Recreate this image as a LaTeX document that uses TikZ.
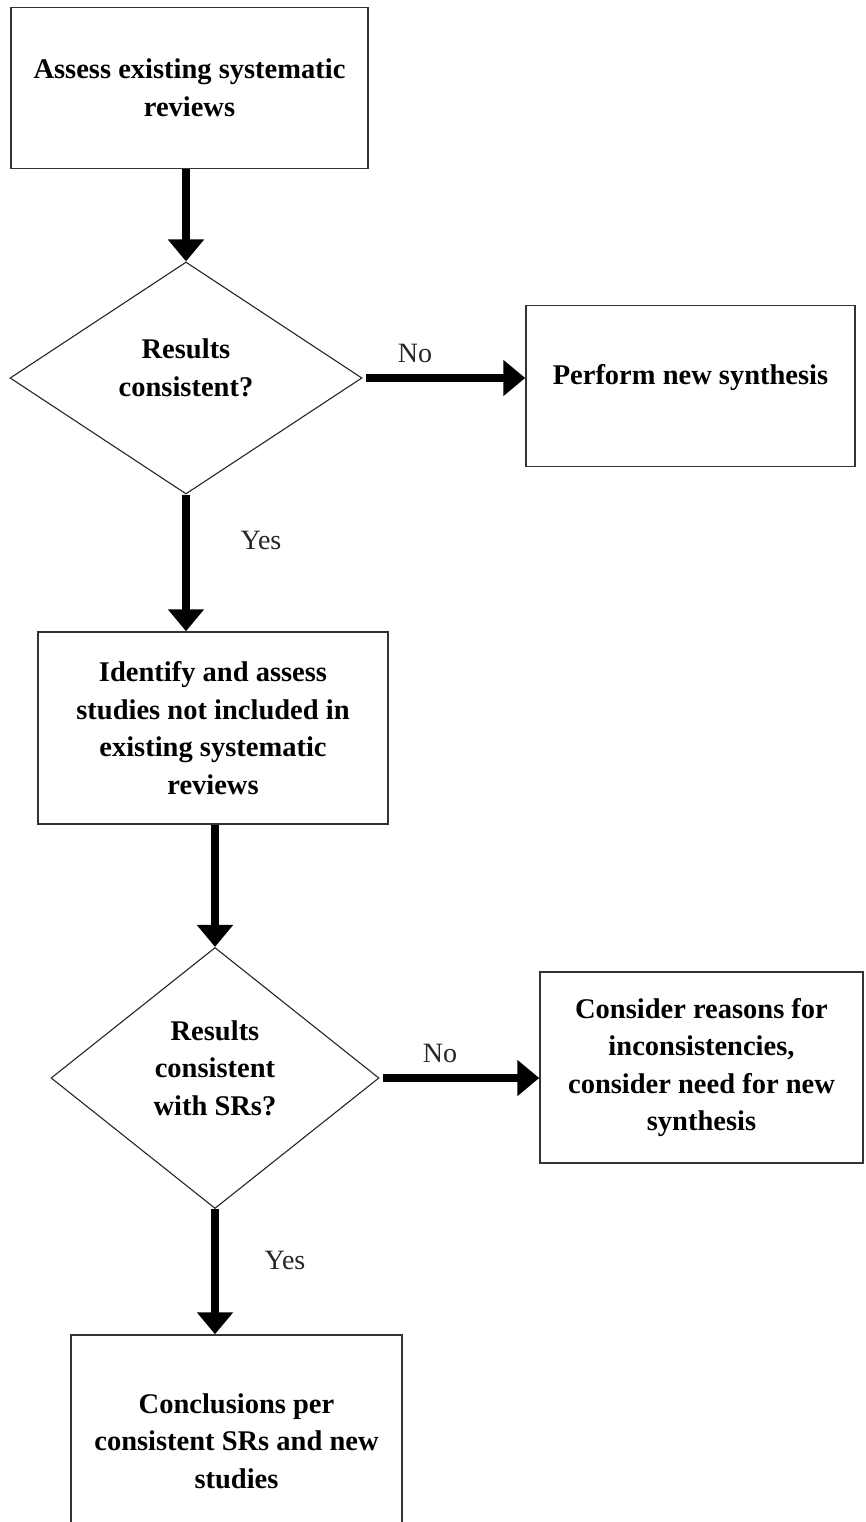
\documentclass[tikz,border=0pt]{standalone}
\usepackage{fontspec}
\setmainfont{Liberation Serif}
\usetikzlibrary{arrows.meta,shapes.geometric,calc}
\begin{document}
\begin{tikzpicture}[x=1pt,y=-1pt,
  box/.style={draw=black!80, line width=1.5pt, rectangle, align=center,
    font=\fontsize{28.5}{37.5}\selectfont\bfseries, inner sep=0pt},
  dia/.style={draw=black!85, line width=1.1pt, diamond, inner sep=0pt, aspect=1},
  dtext/.style={align=center, font=\fontsize{28.5}{37.5}\selectfont\bfseries, inner sep=0pt},
  lbl/.style={font=\fontsize{28}{34}\selectfont, inner sep=0pt, text=black!85},
  flow/.style={line width=7.5pt, -{Triangle[width=35pt,length=22pt]}}
]
\useasboundingbox (0,0) rectangle (865,1522);
\clip (0,0) rectangle (865,1522);
\fill[white] (0,0) rectangle (865,1522);

% nodes
\node[box, minimum width=357pt, minimum height=161pt] (b1) at (189.5,88) {Assess existing systematic\\reviews};
\node[dia, minimum width=352pt, minimum height=232pt] (d1) at (186,378) {};
\node[dtext] (d1t) at (186,368) {Results\\consistent?};
\node[box, minimum width=329pt, minimum height=161pt] (b2) at (690.5,386) {};
\node[dtext] (b2t) at (690.5,378) {Perform new synthesis};
\node[box, minimum width=350pt, minimum height=192pt] (b3) at (213,728) {Identify and assess\\studies not included in\\existing systematic\\reviews};
\node[dia, minimum width=328pt, minimum height=261pt] (d2) at (215,1078) {};
\node[dtext] (d2t) at (215,1068) {Results\\consistent\\with SRs?};
\node[box, minimum width=323pt, minimum height=191pt] (b4) at (701.5,1067.5) {Consider reasons for\\inconsistencies,\\consider need for new\\synthesis};
\node[box, minimum width=331pt, minimum height=212pt] (b5) at (236.5,1441) {Conclusions per\\consistent SRs and new\\studies};

% connectors
\draw[flow] (d1.north |- b1.south) -- (d1.north);
\draw[flow] ($(d1.east)+(3,0)$) -- (d1.east -| b2.west);
\draw[flow] (d1.south) -- (d1.south |- b3.north);
\draw[flow] (d2.north |- b3.south) -- (d2.north);
\draw[flow] ($(d2.east)+(3,0)$) -- (d2.east -| b4.west);
\draw[flow] (d2.south) -- (d2.south |- b5.north);

% labels
\node[lbl] (no1) at (415,353) {No};
\node[lbl] (yes1) at (261,540) {Yes};
\node[lbl] (no2) at (440,1053) {No};
\node[lbl] (yes2) at (285,1260) {Yes};
\end{tikzpicture}
\end{document}
